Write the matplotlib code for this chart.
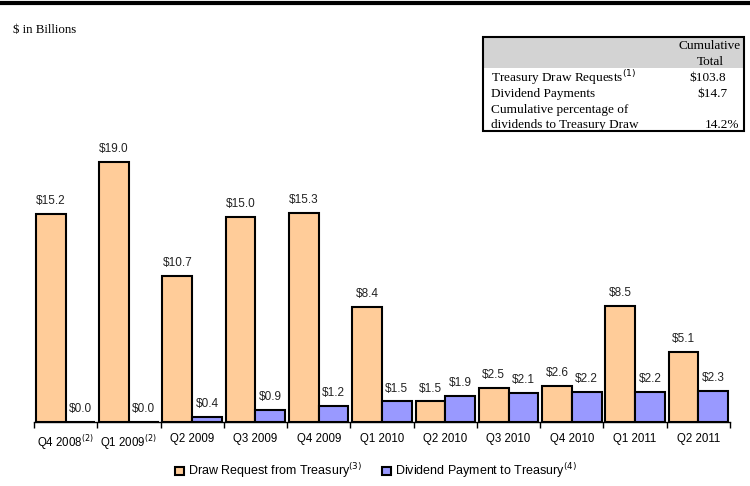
import matplotlib.pyplot as plt
from matplotlib.patches import Rectangle
import numpy as np

quarters = ['Q4 2008$^{(2)}$', 'Q1 2009$^{(2)}$', 'Q2 2009', 'Q3 2009', 'Q4 2009',
            'Q1 2010', 'Q2 2010', 'Q3 2010', 'Q4 2010', 'Q1 2011', 'Q2 2011']
draw_requests = [15.2, 19.0, 10.7, 15.0, 15.3, 8.4, 1.5, 2.5, 2.6, 8.5, 5.1]
dividends = [0.0, 0.0, 0.4, 0.9, 1.2, 1.5, 1.9, 2.1, 2.2, 2.2, 2.3]

table_rows = ['Treasury Draw Requests$^{(1)}$', 'Dividend Payments',
              'Cumulative percentage of', 'dividends to Treasury Draw']
table_values = ['$103.8', '$14.7', '', '14.2%']

ORANGE = '#FFCC99'
BLUE = '#9999FF'
SANS = 'Liberation Sans'
SERIF = 'Liberation Serif'

W, H = 750, 486
fig = plt.figure(figsize=(7.5, 4.86), dpi=100)

# axes: baseline at y=422px, x from 34 to 730px
px_per_unit = 13.68
ax_top = 60
ax = fig.add_axes([34 / W, (H - 422) / H, 696 / W, (422 - ax_top) / H])
ax.set_ylim(0, (422 - ax_top) / px_per_unit)
ax.set_xlim(-0.5, len(quarters) - 0.5)

x = np.arange(len(quarters))
bw = 0.47
b1 = ax.bar(x - bw / 2, draw_requests, bw, color=ORANGE, edgecolor='black', linewidth=1.5)
b2 = ax.bar(x + bw / 2, dividends, bw, color=BLUE, edgecolor='black', linewidth=1.5)

for bars, vals in ((b1, draw_requests), (b2, dividends)):
    for rect, v in zip(bars, vals):
        ax.annotate(f'${v:.1f}', (rect.get_x() + rect.get_width() / 2, v),
                    xytext=(0, 5), textcoords='offset points', ha='center', va='bottom',
                    fontsize=8.5, family=SANS, color='#222222')

for s in ('top', 'right', 'left'):
    ax.spines[s].set_visible(False)
ax.spines['bottom'].set_linewidth(1.0)
ax.set_yticks([])
ax.set_xticks(np.arange(-0.5, len(quarters)), labels=[''] * (len(quarters) + 1))
ax.tick_params(axis='x', which='major', length=4, width=1, direction='out')
ax.set_xticks(x, labels=quarters, minor=True)
ax.tick_params(axis='x', which='minor', length=0, pad=8, labelsize=8.3)
for lab in ax.get_xticklabels(minor=True):
    lab.set_family(SANS)

# legend
leg = fig.legend([b1, b2], ['Draw Request from Treasury$^{(3)}$', 'Dividend Payment to Treasury$^{(4)}$'],
                 loc='center', bbox_to_anchor=(376 / W, (H - 471) / H), ncol=2, frameon=False,
                 prop={'family': SANS, 'size': 9}, handlelength=0.7, handleheight=0.7,
                 handletextpad=0.3, columnspacing=1.6)

# top rule and unit label
fig.add_artist(plt.Line2D([0, 1], [1 - 3 / H, 1 - 3 / H], color='black', linewidth=3))
fig.text(13 / W, 1 - 30 / H, '$ in Billions', family=SERIF, fontsize=9.3, va='center', ha='left')

# cumulative table
tx0, tx1, ty0, ty1 = 483, 744, 37, 131
fig.add_artist(Rectangle((tx0 / W, 1 - 68 / H), (tx1 - tx0) / W, (68 - ty0) / H,
                         transform=fig.transFigure, facecolor='#D3D3D3', edgecolor='none'))
fig.add_artist(Rectangle((tx0 / W, 1 - ty1 / H), (tx1 - tx0) / W, (ty1 - ty0) / H,
                         transform=fig.transFigure, facecolor='none', edgecolor='black', linewidth=1.5))
fig.text(710 / W, 1 - 46 / H, 'Cumulative', family=SERIF, fontsize=9.5, ha='center', va='center')
fig.text(710 / W, 1 - 62 / H, 'Total', family=SERIF, fontsize=9.5, ha='center', va='center')
row_y = [78, 94, 110, 125]
val_x = [708, 712, 712, 722]
for label, val, yy, vx in zip(table_rows, table_values, row_y, val_x):
    fig.text(491 / W, 1 - yy / H, label, family=SERIF, fontsize=9.5, ha='left', va='center')
    if val:
        fig.text(vx / W, 1 - yy / H, val, family=SERIF, fontsize=9.5, ha='center', va='center')

fig.savefig('out.png', dpi=100)
